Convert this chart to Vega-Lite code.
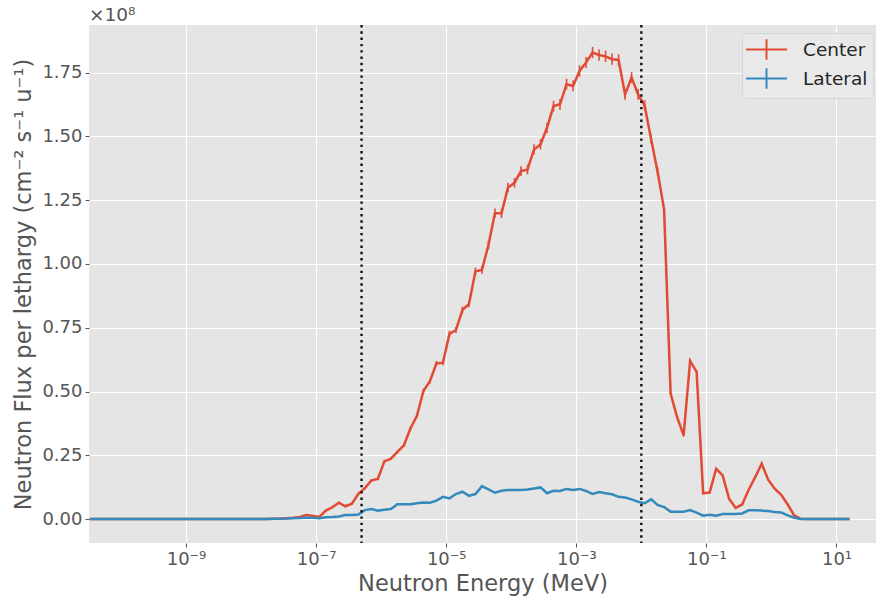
{
  "$schema": "https://vega.github.io/schema/vega-lite/v6.json",
  "width": 787,
  "height": 518,
  "autosize": {"type": "none"},
  "padding": {"left": 89, "top": 25, "right": 0, "bottom": 55},
  "background": "white",
  "title": {"text": "×10⁸", "anchor": "start", "frame": "group", "offset": -1, "fontSize": 18.5, "fontWeight": "normal", "color": "#555555", "font": "DejaVu Sans"},
  "config": {
    "view": {"fill": "#E5E5E5", "stroke": null},
    "font": "DejaVu Sans",
    "axis": {
      "domain": false,
      "gridColor": "#FFFFFF",
      "gridWidth": 1,
      "tickColor": "#555555",
      "tickSize": 4,
      "labelColor": "#555555",
      "labelFontSize": 18,
      "labelFont": "DejaVu Sans",
      "titleColor": "#555555",
      "titleFontSize": 22.5,
      "titleFont": "DejaVu Sans",
      "titleFontWeight": "normal",
      "labelPadding": 3
    }
  },
  "datasets": {
    "flux": [
      {"E": 3.311e-11, "flux": 0, "err": 0, "series": "Center"},
      {"E": 1e-10, "flux": 0, "err": 0, "series": "Center"},
      {"E": 3.162e-10, "flux": 0, "err": 0, "series": "Center"},
      {"E": 1e-9, "flux": 0, "err": 0, "series": "Center"},
      {"E": 3.162e-9, "flux": 0, "err": 0, "series": "Center"},
      {"E": 1e-8, "flux": 0, "err": 0, "series": "Center"},
      {"E": 1.778e-8, "flux": 0.0005, "err": 0, "series": "Center"},
      {"E": 2.239e-8, "flux": 0.001, "err": 0, "series": "Center"},
      {"E": 2.818e-8, "flux": 0.002, "err": 0.001, "series": "Center"},
      {"E": 3.548e-8, "flux": 0.003, "err": 0.001, "series": "Center"},
      {"E": 4.467e-8, "flux": 0.005, "err": 0.001, "series": "Center"},
      {"E": 5.623e-8, "flux": 0.008, "err": 0.002, "series": "Center"},
      {"E": 7.079e-8, "flux": 0.016, "err": 0.002, "series": "Center"},
      {"E": 8.913e-8, "flux": 0.012, "err": 0.002, "series": "Center"},
      {"E": 1.122e-7, "flux": 0.008, "err": 0.002, "series": "Center"},
      {"E": 1.413e-7, "flux": 0.033, "err": 0.003, "series": "Center"},
      {"E": 1.778e-7, "flux": 0.046, "err": 0.003, "series": "Center"},
      {"E": 2.239e-7, "flux": 0.064, "err": 0.004, "series": "Center"},
      {"E": 2.818e-7, "flux": 0.050, "err": 0.004, "series": "Center"},
      {"E": 3.548e-7, "flux": 0.060, "err": 0.004, "series": "Center"},
      {"E": 4.467e-7, "flux": 0.099, "err": 0.005, "series": "Center"},
      {"E": 5.623e-7, "flux": 0.121, "err": 0.005, "series": "Center"},
      {"E": 7.079e-7, "flux": 0.151, "err": 0.005, "series": "Center"},
      {"E": 8.913e-7, "flux": 0.158, "err": 0.006, "series": "Center"},
      {"E": 1.122e-6, "flux": 0.226, "err": 0.006, "series": "Center"},
      {"E": 1.413e-6, "flux": 0.237, "err": 0.006, "series": "Center"},
      {"E": 1.778e-6, "flux": 0.263, "err": 0.007, "series": "Center"},
      {"E": 2.239e-6, "flux": 0.289, "err": 0.007, "series": "Center"},
      {"E": 2.818e-6, "flux": 0.355, "err": 0.008, "series": "Center"},
      {"E": 3.548e-6, "flux": 0.405, "err": 0.008, "series": "Center"},
      {"E": 4.467e-6, "flux": 0.502, "err": 0.009, "series": "Center"},
      {"E": 5.623e-6, "flux": 0.540, "err": 0.009, "series": "Center"},
      {"E": 7.079e-6, "flux": 0.610, "err": 0.010, "series": "Center"},
      {"E": 8.913e-6, "flux": 0.613, "err": 0.010, "series": "Center"},
      {"E": 1.122e-5, "flux": 0.726, "err": 0.012, "series": "Center"},
      {"E": 1.413e-5, "flux": 0.741, "err": 0.012, "series": "Center"},
      {"E": 1.778e-5, "flux": 0.820, "err": 0.013, "series": "Center"},
      {"E": 2.239e-5, "flux": 0.843, "err": 0.013, "series": "Center"},
      {"E": 2.818e-5, "flux": 0.971, "err": 0.015, "series": "Center"},
      {"E": 3.548e-5, "flux": 0.977, "err": 0.015, "series": "Center"},
      {"E": 4.467e-5, "flux": 1.075, "err": 0.016, "series": "Center"},
      {"E": 5.623e-5, "flux": 1.200, "err": 0.018, "series": "Center"},
      {"E": 7.079e-5, "flux": 1.198, "err": 0.018, "series": "Center"},
      {"E": 8.913e-5, "flux": 1.300, "err": 0.018, "series": "Center"},
      {"E": 1.122e-4, "flux": 1.318, "err": 0.019, "series": "Center"},
      {"E": 1.413e-4, "flux": 1.364, "err": 0.019, "series": "Center"},
      {"E": 1.778e-4, "flux": 1.370, "err": 0.019, "series": "Center"},
      {"E": 2.239e-4, "flux": 1.449, "err": 0.020, "series": "Center"},
      {"E": 2.818e-4, "flux": 1.469, "err": 0.020, "series": "Center"},
      {"E": 3.548e-4, "flux": 1.534, "err": 0.020, "series": "Center"},
      {"E": 4.467e-4, "flux": 1.619, "err": 0.021, "series": "Center"},
      {"E": 5.623e-4, "flux": 1.626, "err": 0.021, "series": "Center"},
      {"E": 7.079e-4, "flux": 1.705, "err": 0.021, "series": "Center"},
      {"E": 8.913e-4, "flux": 1.698, "err": 0.021, "series": "Center"},
      {"E": 1.122e-3, "flux": 1.757, "err": 0.022, "series": "Center"},
      {"E": 1.413e-3, "flux": 1.790, "err": 0.022, "series": "Center"},
      {"E": 1.778e-3, "flux": 1.829, "err": 0.022, "series": "Center"},
      {"E": 2.239e-3, "flux": 1.819, "err": 0.022, "series": "Center"},
      {"E": 2.818e-3, "flux": 1.814, "err": 0.022, "series": "Center"},
      {"E": 3.548e-3, "flux": 1.803, "err": 0.022, "series": "Center"},
      {"E": 4.467e-3, "flux": 1.800, "err": 0.022, "series": "Center"},
      {"E": 5.623e-3, "flux": 1.665, "err": 0.021, "series": "Center"},
      {"E": 7.079e-3, "flux": 1.731, "err": 0.021, "series": "Center"},
      {"E": 8.913e-3, "flux": 1.665, "err": 0.021, "series": "Center"},
      {"E": 1.122e-2, "flux": 1.622, "err": 0.020, "series": "Center"},
      {"E": 1.413e-2, "flux": 1.490, "err": 0.018, "series": "Center"},
      {"E": 1.778e-2, "flux": 1.362, "err": 0.016, "series": "Center"},
      {"E": 2.239e-2, "flux": 1.213, "err": 0.010, "series": "Center"},
      {"E": 2.818e-2, "flux": 0.492, "err": 0.006, "series": "Center"},
      {"E": 3.548e-2, "flux": 0.400, "err": 0.005, "series": "Center"},
      {"E": 4.467e-2, "flux": 0.328, "err": 0.005, "series": "Center"},
      {"E": 5.623e-2, "flux": 0.620, "err": 0.006, "series": "Center"},
      {"E": 7.079e-2, "flux": 0.577, "err": 0.006, "series": "Center"},
      {"E": 8.913e-2, "flux": 0.101, "err": 0.003, "series": "Center"},
      {"E": 0.1122, "flux": 0.104, "err": 0.003, "series": "Center"},
      {"E": 0.1413, "flux": 0.197, "err": 0.003, "series": "Center"},
      {"E": 0.1778, "flux": 0.171, "err": 0.003, "series": "Center"},
      {"E": 0.2239, "flux": 0.079, "err": 0.002, "series": "Center"},
      {"E": 0.2818, "flux": 0.044, "err": 0.002, "series": "Center"},
      {"E": 0.3548, "flux": 0.057, "err": 0.002, "series": "Center"},
      {"E": 0.4467, "flux": 0.115, "err": 0.002, "series": "Center"},
      {"E": 0.5623, "flux": 0.164, "err": 0.003, "series": "Center"},
      {"E": 0.7079, "flux": 0.217, "err": 0.003, "series": "Center"},
      {"E": 0.8913, "flux": 0.154, "err": 0.003, "series": "Center"},
      {"E": 1.122, "flux": 0.119, "err": 0.002, "series": "Center"},
      {"E": 1.413, "flux": 0.095, "err": 0.002, "series": "Center"},
      {"E": 1.778, "flux": 0.057, "err": 0.002, "series": "Center"},
      {"E": 2.239, "flux": 0.014, "err": 0.001, "series": "Center"},
      {"E": 2.818, "flux": 0.001, "err": 0, "series": "Center"},
      {"E": 3.548, "flux": 0, "err": 0, "series": "Center"},
      {"E": 5.623, "flux": 0, "err": 0, "series": "Center"},
      {"E": 10, "flux": 0, "err": 0, "series": "Center"},
      {"E": 15.85, "flux": 0, "err": 0, "series": "Center"},
      {"E": 3.311e-11, "flux": 0, "err": 0, "series": "Lateral"},
      {"E": 1e-10, "flux": 0, "err": 0, "series": "Lateral"},
      {"E": 3.162e-10, "flux": 0, "err": 0, "series": "Lateral"},
      {"E": 1e-9, "flux": 0, "err": 0, "series": "Lateral"},
      {"E": 3.162e-9, "flux": 0, "err": 0, "series": "Lateral"},
      {"E": 1e-8, "flux": 0, "err": 0, "series": "Lateral"},
      {"E": 1.778e-8, "flux": 0.0003, "err": 0, "series": "Lateral"},
      {"E": 2.239e-8, "flux": 0.0006, "err": 0, "series": "Lateral"},
      {"E": 2.818e-8, "flux": 0.001, "err": 0, "series": "Lateral"},
      {"E": 3.548e-8, "flux": 0.002, "err": 0, "series": "Lateral"},
      {"E": 4.467e-8, "flux": 0.003, "err": 0, "series": "Lateral"},
      {"E": 5.623e-8, "flux": 0.004, "err": 0.001, "series": "Lateral"},
      {"E": 7.079e-8, "flux": 0.005, "err": 0.001, "series": "Lateral"},
      {"E": 8.913e-8, "flux": 0.005, "err": 0.001, "series": "Lateral"},
      {"E": 1.122e-7, "flux": 0.003, "err": 0.001, "series": "Lateral"},
      {"E": 1.413e-7, "flux": 0.007, "err": 0.001, "series": "Lateral"},
      {"E": 1.778e-7, "flux": 0.008, "err": 0.001, "series": "Lateral"},
      {"E": 2.239e-7, "flux": 0.010, "err": 0.001, "series": "Lateral"},
      {"E": 2.818e-7, "flux": 0.016, "err": 0.001, "series": "Lateral"},
      {"E": 3.548e-7, "flux": 0.016, "err": 0.001, "series": "Lateral"},
      {"E": 4.467e-7, "flux": 0.018, "err": 0.001, "series": "Lateral"},
      {"E": 5.623e-7, "flux": 0.035, "err": 0.001, "series": "Lateral"},
      {"E": 7.079e-7, "flux": 0.039, "err": 0.001, "series": "Lateral"},
      {"E": 8.913e-7, "flux": 0.033, "err": 0.001, "series": "Lateral"},
      {"E": 1.122e-6, "flux": 0.036, "err": 0.001, "series": "Lateral"},
      {"E": 1.413e-6, "flux": 0.039, "err": 0.001, "series": "Lateral"},
      {"E": 1.778e-6, "flux": 0.058, "err": 0.002, "series": "Lateral"},
      {"E": 2.239e-6, "flux": 0.058, "err": 0.002, "series": "Lateral"},
      {"E": 2.818e-6, "flux": 0.058, "err": 0.002, "series": "Lateral"},
      {"E": 3.548e-6, "flux": 0.062, "err": 0.002, "series": "Lateral"},
      {"E": 4.467e-6, "flux": 0.065, "err": 0.002, "series": "Lateral"},
      {"E": 5.623e-6, "flux": 0.064, "err": 0.002, "series": "Lateral"},
      {"E": 7.079e-6, "flux": 0.072, "err": 0.002, "series": "Lateral"},
      {"E": 8.913e-6, "flux": 0.087, "err": 0.002, "series": "Lateral"},
      {"E": 1.122e-5, "flux": 0.081, "err": 0.002, "series": "Lateral"},
      {"E": 1.413e-5, "flux": 0.098, "err": 0.002, "series": "Lateral"},
      {"E": 1.778e-5, "flux": 0.107, "err": 0.002, "series": "Lateral"},
      {"E": 2.239e-5, "flux": 0.091, "err": 0.002, "series": "Lateral"},
      {"E": 2.818e-5, "flux": 0.098, "err": 0.002, "series": "Lateral"},
      {"E": 3.548e-5, "flux": 0.129, "err": 0.002, "series": "Lateral"},
      {"E": 4.467e-5, "flux": 0.116, "err": 0.002, "series": "Lateral"},
      {"E": 5.623e-5, "flux": 0.103, "err": 0.002, "series": "Lateral"},
      {"E": 7.079e-5, "flux": 0.111, "err": 0.002, "series": "Lateral"},
      {"E": 8.913e-5, "flux": 0.114, "err": 0.002, "series": "Lateral"},
      {"E": 1.122e-4, "flux": 0.114, "err": 0.002, "series": "Lateral"},
      {"E": 1.413e-4, "flux": 0.114, "err": 0.002, "series": "Lateral"},
      {"E": 1.778e-4, "flux": 0.116, "err": 0.002, "series": "Lateral"},
      {"E": 2.239e-4, "flux": 0.120, "err": 0.002, "series": "Lateral"},
      {"E": 2.818e-4, "flux": 0.124, "err": 0.002, "series": "Lateral"},
      {"E": 3.548e-4, "flux": 0.101, "err": 0.002, "series": "Lateral"},
      {"E": 4.467e-4, "flux": 0.111, "err": 0.002, "series": "Lateral"},
      {"E": 5.623e-4, "flux": 0.110, "err": 0.002, "series": "Lateral"},
      {"E": 7.079e-4, "flux": 0.118, "err": 0.002, "series": "Lateral"},
      {"E": 8.913e-4, "flux": 0.114, "err": 0.002, "series": "Lateral"},
      {"E": 1.122e-3, "flux": 0.118, "err": 0.002, "series": "Lateral"},
      {"E": 1.413e-3, "flux": 0.110, "err": 0.002, "series": "Lateral"},
      {"E": 1.778e-3, "flux": 0.098, "err": 0.002, "series": "Lateral"},
      {"E": 2.239e-3, "flux": 0.106, "err": 0.002, "series": "Lateral"},
      {"E": 2.818e-3, "flux": 0.101, "err": 0.002, "series": "Lateral"},
      {"E": 3.548e-3, "flux": 0.097, "err": 0.002, "series": "Lateral"},
      {"E": 4.467e-3, "flux": 0.087, "err": 0.002, "series": "Lateral"},
      {"E": 5.623e-3, "flux": 0.084, "err": 0.002, "series": "Lateral"},
      {"E": 7.079e-3, "flux": 0.077, "err": 0.002, "series": "Lateral"},
      {"E": 8.913e-3, "flux": 0.068, "err": 0.002, "series": "Lateral"},
      {"E": 1.122e-2, "flux": 0.062, "err": 0.002, "series": "Lateral"},
      {"E": 1.413e-2, "flux": 0.077, "err": 0.002, "series": "Lateral"},
      {"E": 1.778e-2, "flux": 0.055, "err": 0.002, "series": "Lateral"},
      {"E": 2.239e-2, "flux": 0.047, "err": 0.001, "series": "Lateral"},
      {"E": 2.818e-2, "flux": 0.029, "err": 0.001, "series": "Lateral"},
      {"E": 3.548e-2, "flux": 0.029, "err": 0.001, "series": "Lateral"},
      {"E": 4.467e-2, "flux": 0.029, "err": 0.001, "series": "Lateral"},
      {"E": 5.623e-2, "flux": 0.035, "err": 0.001, "series": "Lateral"},
      {"E": 7.079e-2, "flux": 0.025, "err": 0.001, "series": "Lateral"},
      {"E": 8.913e-2, "flux": 0.013, "err": 0.001, "series": "Lateral"},
      {"E": 0.1122, "flux": 0.017, "err": 0.001, "series": "Lateral"},
      {"E": 0.1413, "flux": 0.013, "err": 0.001, "series": "Lateral"},
      {"E": 0.1778, "flux": 0.020, "err": 0.001, "series": "Lateral"},
      {"E": 0.2239, "flux": 0.020, "err": 0.001, "series": "Lateral"},
      {"E": 0.2818, "flux": 0.020, "err": 0.001, "series": "Lateral"},
      {"E": 0.3548, "flux": 0.022, "err": 0.001, "series": "Lateral"},
      {"E": 0.4467, "flux": 0.034, "err": 0.001, "series": "Lateral"},
      {"E": 0.5623, "flux": 0.034, "err": 0.001, "series": "Lateral"},
      {"E": 0.7079, "flux": 0.033, "err": 0.001, "series": "Lateral"},
      {"E": 0.8913, "flux": 0.031, "err": 0.001, "series": "Lateral"},
      {"E": 1.122, "flux": 0.028, "err": 0.001, "series": "Lateral"},
      {"E": 1.413, "flux": 0.026, "err": 0.001, "series": "Lateral"},
      {"E": 1.778, "flux": 0.014, "err": 0.001, "series": "Lateral"},
      {"E": 2.239, "flux": 0.005, "err": 0, "series": "Lateral"},
      {"E": 2.818, "flux": 0, "err": 0, "series": "Lateral"},
      {"E": 3.548, "flux": 0, "err": 0, "series": "Lateral"},
      {"E": 5.623, "flux": 0, "err": 0, "series": "Lateral"},
      {"E": 10, "flux": 0, "err": 0, "series": "Lateral"},
      {"E": 15.85, "flux": 0, "err": 0, "series": "Lateral"}
    ],
    "cuts": [{"E": 5e-7}, {"E": 0.01}]
  },
  "layer": [
    {
      "data": {"name": "flux"},
      "mark": {"type": "line", "strokeWidth": 2.5, "clip": true},
      "encoding": {
        "x": {
          "field": "E", "type": "quantitative",
          "scale": {"type": "log", "domain": [3.228e-11, 40.5], "nice": false, "zero": false},
          "axis": {
            "title": "Neutron Energy (MeV)",
            "values": [1e-9, 1e-7, 1e-5, 1e-3, 0.1, 10],
            "labelExpr": "datum.value < 1e-8 ? '10⁻⁹' : datum.value < 1e-6 ? '10⁻⁷' : datum.value < 1e-4 ? '10⁻⁵' : datum.value < 1e-2 ? '10⁻³' : datum.value < 1 ? '10⁻¹' : '10¹'",
            "titlePadding": 4
          }
        },
        "y": {
          "field": "flux", "type": "quantitative",
          "title": "Neutron Flux per lethargy (cm⁻² s⁻¹ u⁻¹)",
          "scale": {"domain": [-0.094, 1.937], "nice": false, "zero": false},
          "axis": {
            "values": [0, 0.25, 0.5, 0.75, 1.0, 1.25, 1.5, 1.75],
            "format": ".2f",
            "titlePadding": 6
          }
        },
        "color": {
          "field": "series", "type": "nominal",
          "scale": {"domain": ["Center", "Lateral"], "range": ["#E24A33", "#348ABD"]},
          "legend": {
            "title": null,
            "orient": "none",
            "legendX": 653,
            "legendY": 8,
            "symbolType": "M-2,0H2M0,-1V1",
            "symbolSize": 420,
            "symbolStrokeWidth": 2,
            "symbolOffset": 8,
            "labelFontSize": 18.5,
            "labelColor": "#262626",
            "labelFont": "DejaVu Sans",
            "fillColor": "#E9E9E9",
            "strokeColor": "#D6D6D6",
            "cornerRadius": 4,
            "padding": 5,
            "rowPadding": 0,
            "labelOffset": 25
          }
        }
      }
    },
    {
      "data": {"name": "flux"},
      "mark": {"type": "errorbar", "thickness": 1.6, "clip": true},
      "encoding": {
        "x": {"field": "E", "type": "quantitative", "title": "Neutron Energy (MeV)"},
        "y": {"field": "flux", "type": "quantitative", "title": "Neutron Flux per lethargy (cm⁻² s⁻¹ u⁻¹)"},
        "yError": {"field": "err"},
        "color": {"field": "series", "type": "nominal"}
      }
    },
    {
      "data": {"name": "cuts"},
      "mark": {"type": "rule", "color": "#111111", "strokeWidth": 2.4, "strokeDash": [2.4, 3.9]},
      "encoding": {
        "x": {"field": "E", "type": "quantitative", "title": "Neutron Energy (MeV)"}
      }
    }
  ]
}
